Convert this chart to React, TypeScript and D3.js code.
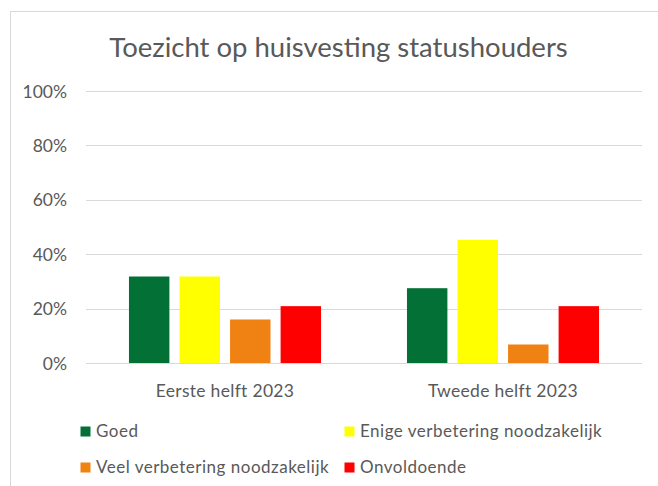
import React, { useEffect, useRef } from "react";
import * as d3 from "d3";

const groups = ["Eerste helft 2023", "Tweede helft 2023"];
const seriesNames = [
  "Goed",
  "Enige verbetering noodzakelijk",
  "Veel verbetering noodzakelijk",
  "Onvoldoende",
];
const seriesColors = ["#037135", "#FFFF00", "#F08113", "#FF0000"];
const goed = [0.318, 0.275];
const enige = [0.318, 0.453];
const veel = [0.16, 0.068];
const onvoldoende = [0.209, 0.209];
const yTicks = [0, 0.2, 0.4, 0.6, 0.8, 1];

const W = 658;
const H = 486;
const FONT = "Lato, 'Open Sans', sans-serif";
const GREY = "#595959";

const App = () => {
  const ref = useRef<SVGSVGElement>(null);

  useEffect(() => {
    const svg = d3.select(ref.current);
    svg.selectAll("*").remove();

    const values = [goed, enige, veel, onvoldoende];
    const margin = { left: 86, right: 16, top: 91, bottom: 123 };

    // outer chart frame (only top and left edges show)
    svg
      .append("rect")
      .attr("x", 10.5)
      .attr("y", 11.5)
      .attr("width", W)
      .attr("height", H)
      .attr("fill", "#fff")
      .attr("stroke", "#D9D9D9")
      .attr("stroke-width", 1);

    const x0 = d3
      .scaleBand()
      .domain(groups)
      .range([margin.left, W - margin.right]);
    const x1 = d3
      .scaleBand()
      .domain(seriesNames)
      .range([0, x0.bandwidth()])
      .paddingInner(0.2)
      .paddingOuter(0.85);
    const y = d3
      .scaleLinear()
      .domain([0, 1])
      .range([H - margin.bottom, margin.top]);

    svg
      .append("text")
      .attr("x", 338.5)
      .attr("y", 57)
      .attr("text-anchor", "middle")
      .attr("font-family", FONT)
      .attr("font-size", 27.5)
      .attr("fill", GREY)
      .text("Toezicht op huisvesting statushouders");

    const grid = svg.append("g");
    grid
      .selectAll("line")
      .data(yTicks)
      .enter()
      .append("line")
      .attr("x1", margin.left)
      .attr("x2", W - margin.right)
      .attr("y1", (d) => Math.round(y(d)) + 0.5)
      .attr("y2", (d) => Math.round(y(d)) + 0.5)
      .attr("stroke", "#D9D9D9")
      .attr("stroke-width", 1.2);

    grid
      .selectAll("text")
      .data(yTicks)
      .enter()
      .append("text")
      .attr("x", 67)
      .attr("y", (d) => y(d) + 6.5)
      .attr("text-anchor", "end")
      .attr("font-family", FONT)
      .attr("font-size", 17.5)
      .attr("fill", GREY)
      .text((d) => d3.format(".0%")(d));

    const bars = svg.append("g");
    seriesNames.forEach((name, si) => {
      bars
        .selectAll(`.bar-${si}`)
        .data(values[si])
        .enter()
        .append("rect")
        .attr("x", (d, gi) => (x0(groups[gi]) ?? 0) + (x1(name) ?? 0))
        .attr("y", (d) => y(d))
        .attr("width", x1.bandwidth())
        .attr("height", (d) => y(0) - y(d))
        .attr("fill", seriesColors[si]);
    });

    svg
      .append("g")
      .selectAll("text")
      .data(groups)
      .enter()
      .append("text")
      .attr("x", (d) => (x0(d) ?? 0) + x0.bandwidth() / 2)
      .attr("y", 397)
      .attr("text-anchor", "middle")
      .attr("font-family", FONT)
      .attr("font-size", 17.5)
      .attr("letter-spacing", 0.3)
      .attr("fill", GREY)
      .text((d) => d);

    const legendPos = [
      [80, 431],
      [344, 431],
      [80, 467],
      [344, 467],
    ];
    const legend = svg
      .append("g")
      .selectAll("g")
      .data(seriesNames)
      .enter()
      .append("g")
      .attr("transform", (d, i) => `translate(${legendPos[i][0]}, ${legendPos[i][1]})`);
    legend
      .append("rect")
      .attr("x", 0.5)
      .attr("y", -4.5)
      .attr("width", 10)
      .attr("height", 10)
      .attr("fill", (d, i) => seriesColors[i]);
    legend
      .append("text")
      .attr("x", 16)
      .attr("y", 6)
      .attr("font-family", FONT)
      .attr("font-size", 17)
      .attr("letter-spacing", 0.5)
      .attr("fill", GREY)
      .text((d) => d);
  }, []);

  return (
    <svg
      ref={ref}
      width={W}
      height={H}
      style={{ position: "absolute", left: 0, top: 0, display: "block" }}
    ></svg>
  );
};

export default App;
